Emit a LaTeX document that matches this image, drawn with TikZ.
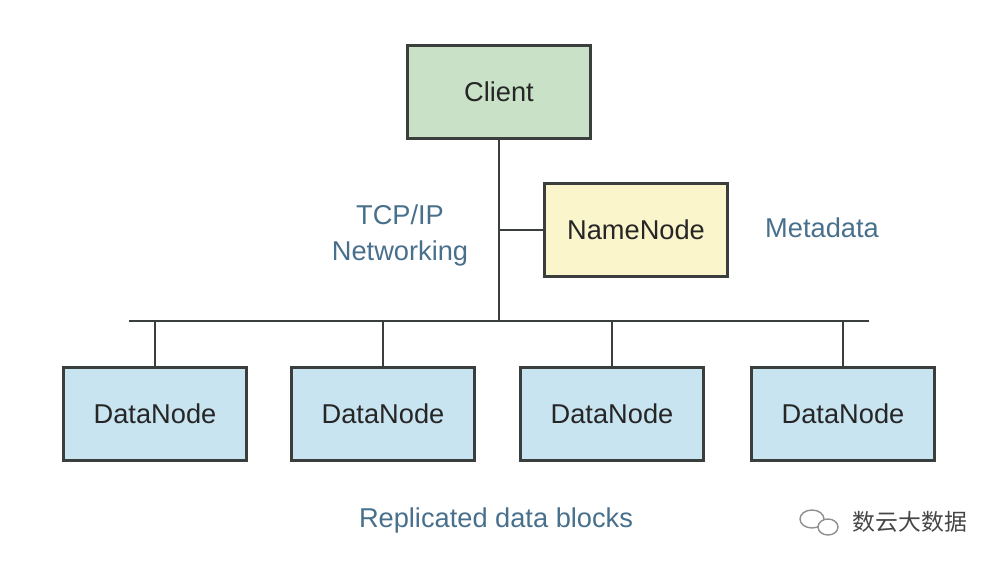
\documentclass[tikz,border=0pt]{standalone}
\usepackage{fontspec}
\setmainfont{Liberation Sans}
\newfontfamily\cjkfont{Noto Sans CJK SC}
\definecolor{clientfill}{RGB}{200,225,199}
\definecolor{namefill}{RGB}{250,245,202}
\definecolor{datafill}{RGB}{200,228,240}
\definecolor{edgegrey}{RGB}{58,62,60}
\definecolor{labelblue}{RGB}{72,112,140}
\definecolor{marktext}{RGB}{70,70,70}
\tikzset{
  box/.style={draw=edgegrey, line width=1.7pt, minimum width=3.68cm,
    minimum height=1.86cm, inner sep=0pt, text=black!85,
    font=\fontsize{15.5}{18}\selectfont},
  wire/.style={draw=edgegrey, line width=1.7pt},
  lbl/.style={text=labelblue, font=\fontsize{15.5}{20.5}\selectfont, align=center}
}
\begin{document}
\begin{tikzpicture}[x=0.02cm,y=-0.02cm]
                \useasboundingbox (0,0) rectangle (1002,568);
                \node[box, fill=clientfill] (client) at (499,92) {Client};
                \node[box, fill=namefill] (namenode) at (636,230) {NameNode};
                \foreach \i/\x in {1/155,2/383,3/612,4/843}
                    \node[box, fill=datafill] (dn\i) at (\x,414) {DataNode};
                \coordinate (busL) at (129,321);
                \coordinate (busR) at (869,321);
                \draw[wire] (busL) -- (busR);
                \draw[wire] (client) -- (client |- busL);
                \draw[wire] (namenode) -- (namenode -| client);
                \foreach \i in {1,...,4}
                    \draw[wire] (dn\i) -- (dn\i |- busL);
                \node[lbl] (tcpip) at (400,235) {TCP/IP\\Networking};
                \node[lbl] (meta) at (822,228) {Metadata};
                \node[lbl] (repl) at (496,520) {Replicated data blocks};
                % watermark
                \node[text=marktext, font=\cjkfont\fontsize{13}{15}\selectfont] (mark) at (910,522) {数云大数据};
                \draw[marktext!60, line width=0.8pt] (812,519) ellipse (12 and 9);
                \draw[marktext!60, line width=0.8pt, fill=white] (828,527) ellipse (10 and 8);
            \end{tikzpicture}
\end{document}
